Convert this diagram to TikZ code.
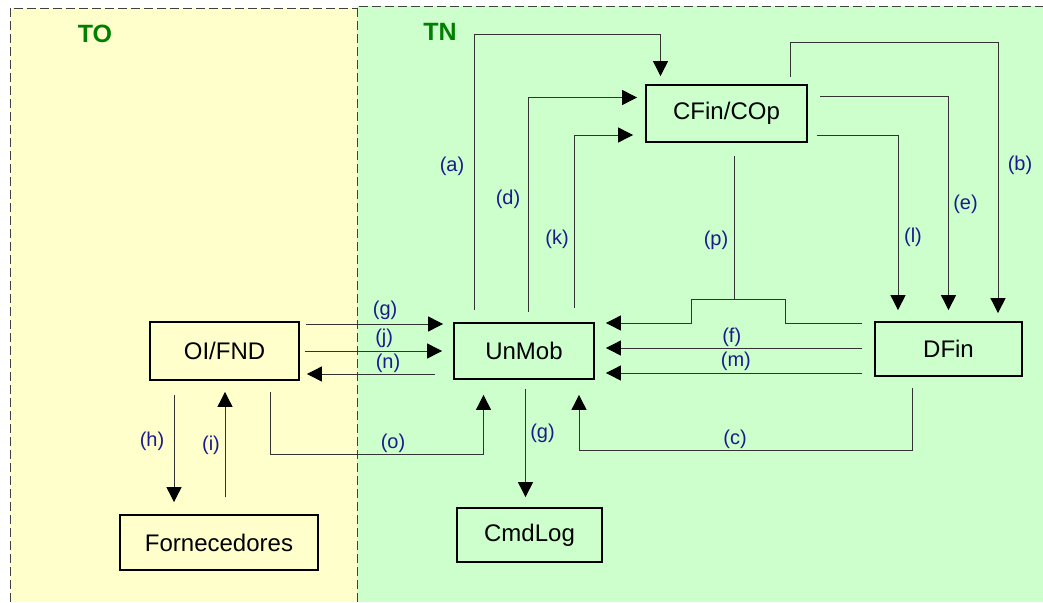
\documentclass[tikz,border=0pt]{standalone}
\usepackage{fontspec}
\setmainfont{Liberation Sans}
\usetikzlibrary{arrows.meta,positioning}
\definecolor{toyellow}{HTML}{FFFFCC}
\definecolor{tngreen}{HTML}{CCFFCC}
\definecolor{zonegreen}{HTML}{008000}
\definecolor{tagblue}{HTML}{1A1A8C}

\begin{document}
\begin{tikzpicture}[
    x=1pt, y=-1pt,
    box/.style={draw, line width=1.8pt, inner sep=0pt, font=\fontsize{24}{24}\selectfont},
    zone/.style={line width=0.8pt, draw=black!75, dash pattern=on 9pt off 4pt},
    zonetitle/.style={font=\fontsize{25}{25}\selectfont\bfseries, text=zonegreen},
    conn/.style={line width=0.9pt, draw=black!80},
    arrow/.style={conn, -{Triangle[length=15pt, width=15pt, color=black]}},
    lbl/.style={font=\fontsize{20}{20}\selectfont, text=tagblue, inner sep=0pt}
]
    \useasboundingbox (0,0) rectangle (1043,602);

    % Zones
    \fill[toyellow] (10,8) rectangle (357,602);
    \fill[tngreen] (357,6) rectangle (1043,602);
    \draw[zone] (10,602) -- (10,8) -- (357,8);
    \draw[zone] (357,602) -- (357,6) -- (1043,6);
    \node[zonetitle] (TO) at (95,34) {TO};
    \node[zonetitle] (TN) at (440,32) {TN};

    % Nodes
    \node[box, minimum width=149pt, minimum height=58pt] (OIFND) at (224.5,351) {OI/FND};
    \node[box, minimum width=198pt, minimum height=55pt] (Forn) at (219,542.5) {Fornecedores};
    \node[box, minimum width=140pt, minimum height=56pt] (UnMob) at (524,351) {UnMob};
    \node[box, minimum width=145pt, minimum height=54pt] (CmdLog) at (529.5,535) {CmdLog};
    \node[box, minimum width=161pt, minimum height=57pt] (CFin) at (726.5,113.5) {CFin/COp};
    \node[box, minimum width=147pt, minimum height=54pt] (DFin) at (948.5,349) {DFin};

    % Transitions around CFin/COp
    \draw[arrow, shorten <=12pt, shorten >=8pt] ([xshift=-50pt]UnMob.north)
        |- node[lbl, pos=0.27, xshift=-22pt] {(a)} ([xshift=-66pt, yshift=50pt]CFin.north)
        -- ([xshift=-66pt]CFin.north);
    \draw[arrow, shorten <=10pt, shorten >=8pt] ([xshift=4pt]UnMob.north)
        |- node[lbl, pos=0.274, xshift=-20pt] {(d)} ([yshift=16pt]CFin.west);
    \draw[arrow, shorten <=14pt, shorten >=12pt] ([xshift=50pt]UnMob.north)
        |- node[lbl, pos=0.22, xshift=-17pt] {(k)} ([yshift=-21.5pt]CFin.west);
    \draw[arrow, shorten <=7pt, shorten >=8pt] ([xshift=64pt]CFin.north) -- ++(0,-42)
        -| node[lbl, pos=0.72, xshift=22pt] {(b)} ([xshift=49.5pt]DFin.north);
    \draw[arrow, shorten <=12pt, shorten >=11pt] ([yshift=17pt]CFin.east)
        -| node[lbl, pos=0.74, xshift=17pt] {(e)} (DFin.north);
    \draw[arrow, shorten <=9pt, shorten >=11pt] ([yshift=-22pt]CFin.east)
        -| node[lbl, pos=0.773, xshift=15pt] {(l)} ([xshift=-50.5pt]DFin.north);
    \draw[conn, shorten <=13pt] ([xshift=8pt]CFin.south)
        -- node[lbl, pos=0.626, xshift=-18.5pt] {(p)} ++(0,156);

    % Transitions DFin -> UnMob
    \draw[arrow, shorten <=12pt, shorten >=11pt] ([yshift=26pt]DFin.west) -- ++(-89,0)
        -- ++(0,-24) -- ++(-94,0) -- ++(0,24) -- ([yshift=28pt]UnMob.east);
    \draw[arrow, shorten <=12pt, shorten >=11pt] ([yshift=1pt]DFin.west)
        -- node[lbl, pos=0.51, yshift=11pt] {(f)} ([yshift=3pt]UnMob.east);
    \draw[arrow, shorten <=12pt, shorten >=11pt] ([yshift=-24pt]DFin.west)
        -- node[lbl, pos=0.495, yshift=11.5pt] {(m)} ([yshift=-22pt]UnMob.east);
    \draw[arrow, shorten <=11pt, shorten >=15pt] ([xshift=-36pt]DFin.south) -- ++(0,74)
        -| node[lbl, pos=0.266, yshift=12pt] {(c)} ([xshift=55pt]UnMob.south);

    % Transitions OI/FND <-> UnMob
    \draw[arrow, shorten <=6pt, shorten >=10pt] ([yshift=27pt]OIFND.east)
        -- node[lbl, pos=0.556, yshift=14pt] {(g)} ([yshift=27pt]UnMob.west);
    \draw[arrow, shorten <=5pt, shorten >=11pt] (OIFND.east)
        -- node[lbl, pos=0.55, yshift=13pt] {(j)} (UnMob.west);
    \draw[arrow, shorten <=18pt, shorten >=7pt] ([yshift=-23pt]UnMob.west)
        -- node[lbl, pos=0.425, yshift=11pt] {(n)} ([yshift=-23pt]OIFND.east);
    \draw[arrow, shorten <=11pt, shorten >=15pt] ([xshift=45.5pt]OIFND.south) -- ++(0,74)
        -| node[lbl, pos=0.288, yshift=12pt] {(o)} ([xshift=-40.5pt]UnMob.south);

    % Transitions to Fornecedores and CmdLog
    \draw[arrow, shorten <=14pt, shorten >=12pt] ([xshift=-50.5pt]OIFND.south)
        -- node[lbl, pos=0.45, xshift=-22pt] {(h)} ([xshift=-45pt]Forn.north);
    \draw[arrow, shorten <=17pt, shorten >=11pt] ([xshift=6pt]Forn.north)
        -- node[lbl, pos=0.52, xshift=-14pt] {(i)} ([xshift=0.5pt]OIFND.south);
    \draw[arrow, shorten <=9pt, shorten >=10pt] ([xshift=1.5pt]UnMob.south)
        -- node[lbl, pos=0.42, xshift=17pt] {(g)} ([xshift=-4pt]CmdLog.north);
\end{tikzpicture}
\end{document}
